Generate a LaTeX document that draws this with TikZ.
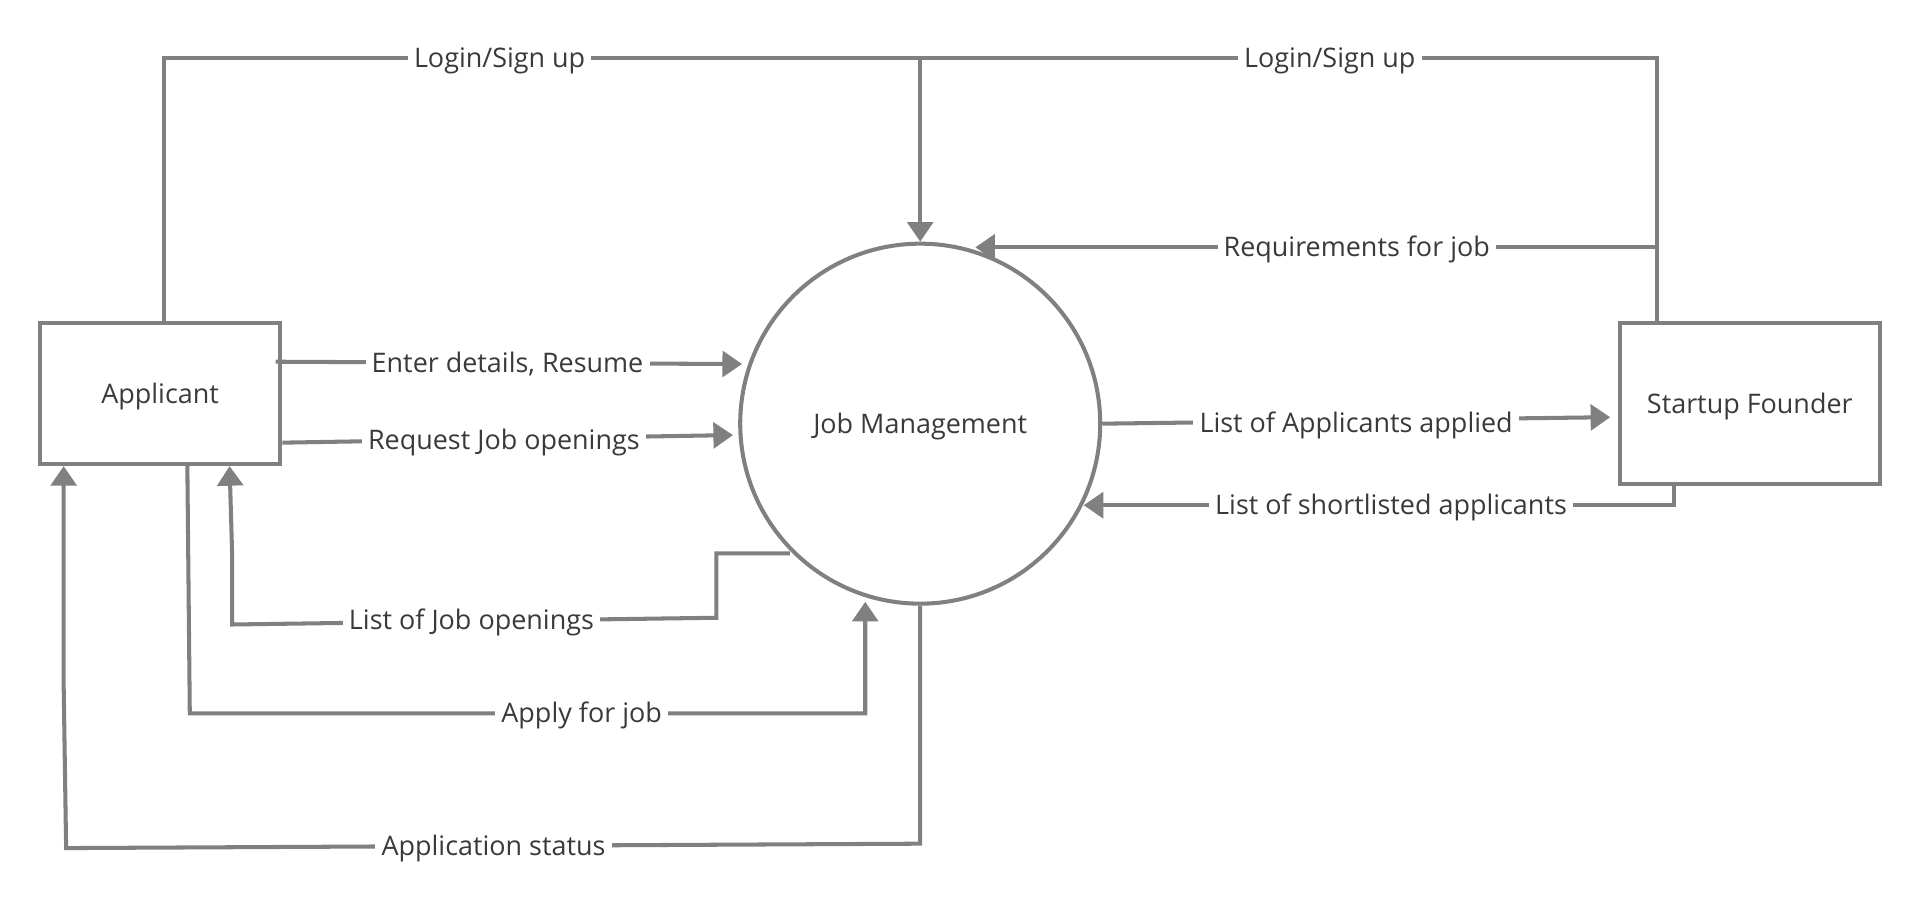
\documentclass[tikz,border=0pt]{standalone}
\usepackage{fontspec}
\setmainfont{Open Sans}
\usetikzlibrary{arrows.meta}
\definecolor{ln}{HTML}{808080}
\definecolor{tx}{HTML}{3A3A3A}
\begin{document}
\begin{tikzpicture}[x=1pt,y=-1pt,
  every node/.style={font=\fontsize{22}{26}\selectfont, text=tx},
  box/.style={draw=ln, line width=3.3pt, inner sep=0pt, text height=15.7pt, text depth=0pt},
  flow/.style={draw=ln, line width=3.3pt},
  arr/.style={flow, -{Triangle[length=16pt,width=21pt]}},
  lab/.style={fill=white, inner xsep=5pt, inner ysep=4pt, text height=15.7pt, text depth=0pt}
]
\useasboundingbox (0,0) rectangle (1568,738.27);

\node[box, minimum width=196.5pt, minimum height=115pt] (app) at (130.75,321.5) {Applicant};
\node[box, minimum width=212.5pt, minimum height=131pt] (sf) at (1429,329.5) {Startup Founder};
\node[box, circle, minimum size=294pt] (jm) at (751.5,346) {Job Management};

\coordinate (topl) at (134,47.4);
\coordinate (topm) at (751.5,47.4);
\coordinate (topr) at (1353.5,47.4);
\coordinate (reqs) at (1353.5,202);
\coordinate (reqe) at (796.5,202);

% Login / Sign up (applicant)
\draw[arr] (app.north -| topl) -- (topl) -- (topm) -- (jm.north);
% Login / Sign up (founder)
\draw[flow] (sf.north -| topr) -- (topr) -- (topm);
% Requirements for job
\draw[arr] (reqs) -- (reqe);
% Enter details
\draw[arr] (225,295.4) -- (606,297.3);
% Request job openings
\draw[arr] (app.east |- 0,361.5) -- (598.6,355.3);
% List of applicants applied
\draw[arr] (jm.east) -- (1315,340.7);
% List of shortlisted applicants
\draw[arr] (sf.south -| 1367,0) -- (1367,412.6) -- (885,412.6);
% List of job openings
\draw[arr] (645,452) -- (585,452) -- (585,504.5) -- (189.5,510) -- (189.5,450) -- (app.south -| 187.5,0);
% Apply for job
\draw[arr] (app.south -| 153,0) -- (155,582.5) -- (706.6,582.5) -- (706.6,491.5);
% Application status
\draw[arr] (jm.south) -- (751.5,689) -- (54,692.6) -- (52,560) -- (app.south -| 52,0);

\node[lab] (l1) at (408,47.4) {Login/Sign up};
\node[lab] (l2) at (1086,47.4) {Login/Sign up};
\node[lab] (l3) at (1108,202) {Requirements for job};
\node[lab] (l4) at (414.5,296.2) {Enter details, Resume};
\node[lab] (l5) at (411.5,359) {Request Job openings};
\node[lab] (l6) at (385,506.5) {List of Job openings};
\node[lab] (l7) at (475,582.5) {Apply for job};
\node[lab] (l8) at (403,690.5) {Application status};
\node[lab] (l9) at (1107.5,345.5) {List of Applicants applied};
\node[lab] (l10) at (1136,412.6) {List of shortlisted applicants};
\end{tikzpicture}
\end{document}
